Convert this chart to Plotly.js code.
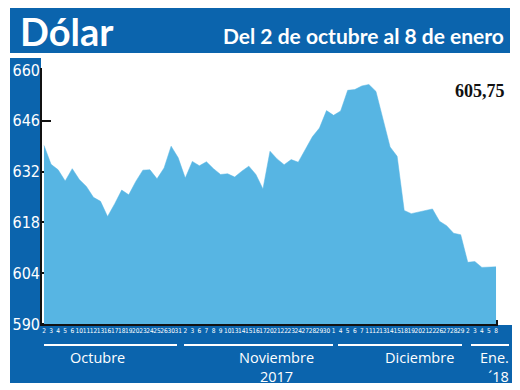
<!DOCTYPE html>
<html>
<head>
<meta charset="utf-8">
<script src="https://cdn.plot.ly/plotly-3.0.1.min.js"></script>
<style>
  html, body { margin: 0; padding: 0; background: #ffffff; }
  #chart { width: 520px; height: 390px; }
</style>
</head>
<body>
<div id="chart"></div>
<script>
// ---- data ----
const dayLabels = [
  2,3,4,5,6,10,11,12,13,16,17,18,19,20,23,24,25,26,30,31,
  2,3,6,7,8,9,10,13,14,15,16,17,20,21,22,23,24,27,28,29,30,
  1,4,5,6,7,11,12,13,14,15,18,19,20,21,22,26,27,28,29,
  2,3,4,5,8
];
const dolarValues = [
  639.2,634.0,632.5,629.4,632.8,629.8,627.9,624.9,623.8,619.6,
  623.1,626.9,625.6,629.3,632.4,632.5,630.0,633.0,639.0,635.8,
  630.2,634.8,633.6,634.7,632.8,631.2,631.4,630.5,632.1,633.5,
  631.2,627.2,637.6,635.5,633.9,635.3,634.6,638.3,641.6,644.0,
  648.8,647.5,648.7,654.4,654.6,655.6,656.0,654.1,646.8,638.8,
  636.2,621.3,620.4,620.8,621.3,621.7,618.3,617.1,615.0,614.6,
  607.0,607.2,605.6,605.7,605.75
];
const yTicks = [590, 604, 618, 632, 646, 660];
const titleText = "Dólar";
const subtitleText = "Del 2 de octubre al 8 de enero";
const lastValueText = "605,75";
const monthLabels = ["Octubre", "Noviembre<br>2017", "Diciembre", "Ene.<br>´18"];

// ---- layout helpers (pixel -> paper) ----
const W = 520, H = 390;
const M = {l: 41, r: 22, t: 69, b: 65};
const PW = W - M.l - M.r, PH = H - M.t - M.b;
const px = x => (x - M.l) / PW;
const py = y => (H - M.b - y) / PH;

const BLUE = '#0b64ad';
const FILL = '#57b5e3';

const xIdx = dayLabels.map((_, i) => i);

const trace = {
  type: 'scatter',
  mode: 'lines',
  x: xIdx,
  y: dolarValues,
  fill: 'tozeroy',
  fillcolor: FILL,
  line: {color: FILL, width: 0.5},
  hoverinfo: 'skip'
};

function rect(x0, y0, x1, y1, color) {
  return {type: 'rect', xref: 'paper', yref: 'paper', layer: 'below',
          x0: px(x0), x1: px(x1), y0: py(y1), y1: py(y0),
          fillcolor: color, line: {width: 0}};
}
function hline(x0, x1, y, color, w) {
  return {type: 'line', xref: 'paper', yref: 'paper', layer: 'above',
          x0: px(x0), x1: px(x1), y0: py(y), y1: py(y),
          line: {color: color, width: w}};
}
function vline(x, y0, y1, color, w) {
  return {type: 'line', xref: 'paper', yref: 'paper', layer: 'above',
          x0: px(x), x1: px(x), y0: py(y0), y1: py(y1),
          line: {color: color, width: w}};
}

const shapes = [
  rect(10, 8, 510, 53, BLUE),      // header
  rect(10, 58, 41, 383, BLUE),     // left strip
  rect(10, 325, 512, 383, BLUE),   // bottom strip
  // axis lines
  vline(41, 68, 326, '#111', 2),
  hline(40, 498, 325, '#111', 2),
  vline(497, 320, 325, '#111', 2),
  // month separators
  hline(44, 177, 345, '#ffffff', 2),
  hline(184, 333, 345, '#ffffff', 2),
  hline(338, 462, 345, '#ffffff', 2),
  hline(471, 509, 345, '#ffffff', 2)
];

function ann(text, x, y, opts) {
  return Object.assign({
    text: text, xref: 'paper', yref: 'paper', x: px(x), y: py(y),
    showarrow: false, xanchor: 'center', yanchor: 'top',
    font: {family: 'Open Sans, sans-serif', size: 15, color: '#ffffff'}
  }, opts || {});
}

const monthFont = {family: 'Open Sans, sans-serif', size: 14.5, color: '#ffffff'};
const annotations = [
  ann('<b>' + titleText + '</b>', 18, 31, {xanchor: 'left', yanchor: 'middle',
      font: {family: 'Lato, sans-serif', size: 38, color: '#ffffff'}}),
  ann('<b>' + subtitleText + '</b>', 506, 35, {xanchor: 'right', yanchor: 'middle',
      font: {family: 'Lato, sans-serif', size: 21, color: '#ffffff'}}),
  ann('<b>' + lastValueText + '</b>', 507, 91, {xanchor: 'right', yanchor: 'middle',
      font: {family: 'Liberation Serif, serif', size: 18, color: '#111111'}}),
  ann(monthLabels[0], 97, 346, {font: monthFont}),
  ann(monthLabels[1], 276, 346, {font: monthFont, align: 'center'}),
  ann(monthLabels[2], 419, 346, {font: monthFont}),
  ann(monthLabels[3], 511, 346, {xanchor: 'right', align: 'right', font: monthFont})
];

const layout = {
  width: W, height: H,
  margin: M,
  paper_bgcolor: '#ffffff',
  plot_bgcolor: '#ffffff',
  showlegend: false,
  xaxis: {
    range: [-0.425, 64.28],
    tickmode: 'array',
    tickvals: xIdx,
    ticktext: dayLabels.map(String),
    tickangle: 0,
    ticks: '',
    showgrid: false, zeroline: false, showline: false,
    tickfont: {family: 'Liberation Sans Narrow, DejaVu Sans Condensed, sans-serif', size: 6.5, color: '#ffffff'},
    fixedrange: true
  },
  yaxis: {
    range: [589.72, 660.27],
    tickmode: 'array',
    tickvals: yTicks,
    ticktext: yTicks.map(String),
    ticks: 'inside', ticklen: 10, tickwidth: 2, tickcolor: '#111',
    layer: 'below traces',
    showgrid: false, zeroline: false, showline: false,
    tickfont: {family: 'Liberation Sans Narrow, DejaVu Sans Condensed, sans-serif', size: 16, color: '#ffffff'},
    fixedrange: true
  },
  shapes: shapes,
  annotations: annotations
};

Plotly.newPlot('chart', [trace], layout, {staticPlot: true, displayModeBar: false});
</script>
</body>
</html>
